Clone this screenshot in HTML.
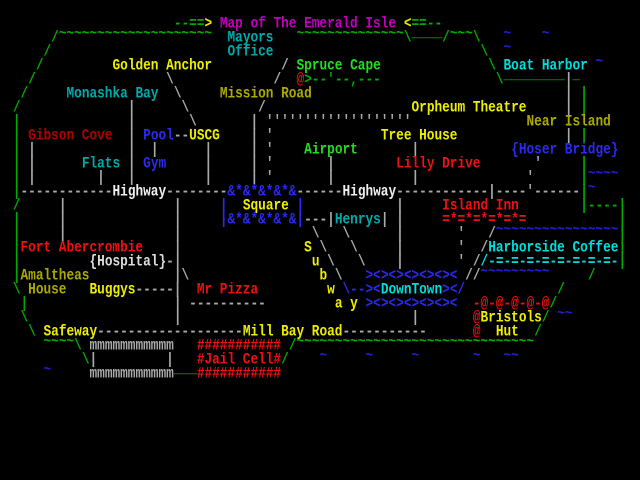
<!DOCTYPE html>
<html><head><meta charset="utf-8"><style>
html,body{margin:0;padding:0;background:#000;}
body{width:640px;height:480px;overflow:hidden;position:relative;}
b{position:absolute;left:calc(var(--c)*7.667px - 2.5px);top:calc(var(--r)*14px + 17px);font:bold 12.78px/14px "Liberation Mono","DejaVu Sans Mono",monospace;white-space:pre;transform:scaleY(1.2);transform-origin:50% 50%;color:#aaa;}
.t{margin-top:-4px}.u{margin-top:-5px}
.g{color:#00aa00}.lg{color:#22dd22}.y{color:#eeee00}.o{color:#aaaa00}
.c{color:#00aaaa}.bc{color:#00dddd}.r{color:#ee1111}.dr{color:#b00000}
.bl{color:#2a2af0}.bt{color:#2020d0}.w{color:#f0f0f0}.w2{color:#dddddd}.gr{color:#aaaaaa}.m{color:#c000c0}
</style></head><body>
<!-- row 0 -->
<b class="g" style="--c:23;--r:0">--==</b><b class="y" style="--c:27;--r:0">&gt;</b><b class="m" style="--c:29;--r:0">Map of The Emerald Isle</b><b class="y" style="--c:53;--r:0">&lt;</b><b class="g" style="--c:54;--r:0">==--</b>
<!-- row 1 -->
<b class="g" style="--c:7;--r:1">/</b><b class="g t" style="--c:8;--r:1">~~~~~~~~~~~~~~~~~~~~</b><b class="c" style="--c:30;--r:1">Mayors</b><b class="g t" style="--c:39;--r:1">~~~~~~~~~~~~~~</b><b class="g" style="--c:53;--r:1">\</b><b class="g u" style="--c:54;--r:1">____</b><b class="g" style="--c:58;--r:1">/</b><b class="g t" style="--c:59;--r:1">~~~</b><b class="g" style="--c:62;--r:1">\</b><b class="bt t" style="--c:66;--r:1">~</b><b class="bt t" style="--c:71;--r:1">~</b>
<!-- row 2 -->
<b class="g" style="--c:6;--r:2">/</b><b class="c" style="--c:30;--r:2">Office</b><b class="g" style="--c:63;--r:2">\</b><b class="bt t" style="--c:66;--r:2">~</b>
<!-- row 3 -->
<b class="g" style="--c:5;--r:3">/</b><b class="y" style="--c:15;--r:3">Golden Anchor</b><b class="gr" style="--c:37;--r:3">/</b><b class="lg" style="--c:39;--r:3">Spruce Cape</b><b class="g" style="--c:64;--r:3">\</b><b class="bc" style="--c:66;--r:3">Boat Harbor</b><b class="bt t" style="--c:78;--r:3">~</b>
<!-- row 4 -->
<b class="g" style="--c:4;--r:4">/</b><b class="gr" style="--c:22;--r:4">\</b><b class="gr" style="--c:36;--r:4">/</b><b class="r" style="--c:39;--r:4">@</b><b class="g" style="--c:40;--r:4">&gt;--'--,---</b><b class="g" style="--c:65;--r:4">\</b><b class="g u" style="--c:66;--r:4">________</b><b class="gr" style="--c:74;--r:4">|</b><b class="g u" style="--c:75;--r:4">_</b>
<!-- row 5 -->
<b class="g" style="--c:3;--r:5">/</b><b class="c" style="--c:9;--r:5">Monashka Bay</b><b class="gr" style="--c:23;--r:5">\</b><b class="o" style="--c:29;--r:5">Mission Road</b><b class="gr" style="--c:74;--r:5">|</b><b class="g" style="--c:76;--r:5">|</b>
<!-- row 6 -->
<b class="g" style="--c:2;--r:6">/</b><b class="gr" style="--c:17;--r:6">|</b><b class="gr" style="--c:24;--r:6">\</b><b class="gr" style="--c:34;--r:6">/</b><b class="y" style="--c:54;--r:6">Orpheum Theatre</b><b class="gr" style="--c:74;--r:6">|</b><b class="g" style="--c:76;--r:6">|</b>
<!-- row 7 -->
<b class="g" style="--c:2;--r:7">|</b><b class="gr" style="--c:17;--r:7">|</b><b class="gr" style="--c:25;--r:7">\</b><b class="gr" style="--c:33;--r:7">|</b><b class="gr" style="--c:35;--r:7">'''''''''''''''''''</b><b class="o" style="--c:69;--r:7">Near Island</b>
<!-- row 8 -->
<b class="g" style="--c:2;--r:8">|</b><b class="dr" style="--c:4;--r:8">Gibson Cove</b><b class="gr" style="--c:17;--r:8">|</b><b class="bl" style="--c:19;--r:8">Pool</b><b class="gr" style="--c:23;--r:8">--</b><b class="y" style="--c:25;--r:8">USCG</b><b class="gr" style="--c:33;--r:8">|</b><b class="gr" style="--c:35;--r:8">'</b><b class="y" style="--c:50;--r:8">Tree House</b><b class="gr" style="--c:74;--r:8">|</b><b class="g" style="--c:76;--r:8">|</b>
<!-- row 9 -->
<b class="g" style="--c:2;--r:9">|</b><b class="gr" style="--c:4;--r:9">|</b><b class="gr" style="--c:17;--r:9">|</b><b class="gr" style="--c:20;--r:9">|</b><b class="gr" style="--c:27;--r:9">|</b><b class="gr" style="--c:33;--r:9">|</b><b class="gr" style="--c:35;--r:9">'</b><b class="lg" style="--c:40;--r:9">Airport</b><b class="gr" style="--c:54;--r:9">|</b><b class="bl" style="--c:67;--r:9">{Hoser Bridge}</b>
<!-- row 10 -->
<b class="g" style="--c:2;--r:10">|</b><b class="gr" style="--c:4;--r:10">|</b><b class="c" style="--c:11;--r:10">Flats</b><b class="gr" style="--c:17;--r:10">|</b><b class="bl" style="--c:19;--r:10">Gym</b><b class="gr" style="--c:27;--r:10">|</b><b class="gr" style="--c:33;--r:10">|</b><b class="gr" style="--c:35;--r:10">'</b><b class="gr" style="--c:43;--r:10">|</b><b class="r" style="--c:52;--r:10">Lilly Drive</b><b class="gr" style="--c:70;--r:10">'</b><b class="g" style="--c:76;--r:10">|</b>
<!-- row 11 -->
<b class="g" style="--c:2;--r:11">|</b><b class="gr" style="--c:4;--r:11">|</b><b class="gr" style="--c:13;--r:11">|</b><b class="gr" style="--c:17;--r:11">|</b><b class="gr" style="--c:27;--r:11">|</b><b class="gr" style="--c:33;--r:11">|</b><b class="gr" style="--c:35;--r:11">'</b><b class="gr" style="--c:43;--r:11">|</b><b class="gr" style="--c:54;--r:11">|</b><b class="gr" style="--c:69;--r:11">'</b><b class="g" style="--c:76;--r:11">|</b><b class="bt t" style="--c:77;--r:11">~~~~</b>
<!-- row 12 -->
<b class="g" style="--c:2;--r:12">|</b><b class="gr" style="--c:3;--r:12">------------</b><b class="w" style="--c:15;--r:12">Highway</b><b class="gr" style="--c:22;--r:12">--------</b><b class="bl" style="--c:30;--r:12">&amp;*&amp;*&amp;*&amp;*&amp;</b><b class="gr" style="--c:39;--r:12">------</b><b class="w" style="--c:45;--r:12">Highway</b><b class="gr" style="--c:52;--r:12">------------|----'------</b><b class="g" style="--c:76;--r:12">|</b><b class="bt t" style="--c:77;--r:12">~</b>
<!-- row 13 -->
<b class="g" style="--c:2;--r:13">/</b><b class="gr" style="--c:8;--r:13">|</b><b class="gr" style="--c:23;--r:13">|</b><b class="bl" style="--c:29;--r:13">|</b><b class="y" style="--c:32;--r:13">Square</b><b class="bl" style="--c:39;--r:13">|</b><b class="gr" style="--c:52;--r:13">|</b><b class="r" style="--c:58;--r:13">Island Inn</b><b class="g" style="--c:76;--r:13">|----|</b>
<!-- row 14 -->
<b class="g" style="--c:2;--r:14">|</b><b class="gr" style="--c:8;--r:14">|</b><b class="gr" style="--c:23;--r:14">|</b><b class="bl" style="--c:29;--r:14">|&amp;*&amp;*&amp;*&amp;*&amp;|</b><b class="gr" style="--c:40;--r:14">---|</b><b class="c" style="--c:44;--r:14">Henrys</b><b class="gr" style="--c:50;--r:14">|</b><b class="gr" style="--c:52;--r:14">|</b><b class="r" style="--c:58;--r:14">=*=*=*=*=*=</b><b class="g" style="--c:81;--r:14">|</b>
<!-- row 15 -->
<b class="g" style="--c:2;--r:15">|</b><b class="gr" style="--c:8;--r:15">|</b><b class="gr" style="--c:23;--r:15">|</b><b class="gr" style="--c:41;--r:15">\</b><b class="gr" style="--c:45;--r:15">\</b><b class="gr" style="--c:52;--r:15">|</b><b class="gr" style="--c:60;--r:15">'</b><b class="gr" style="--c:64;--r:15">/</b><b class="bt t" style="--c:65;--r:15">~~~~~~~~~~~~~~~~</b><b class="g" style="--c:81;--r:15">|</b>
<!-- row 16 -->
<b class="g" style="--c:2;--r:16">|</b><b class="r" style="--c:3;--r:16">Fort Abercrombie</b><b class="gr" style="--c:23;--r:16">|</b><b class="y" style="--c:40;--r:16">S</b><b class="gr" style="--c:42;--r:16">\</b><b class="gr" style="--c:46;--r:16">\</b><b class="gr" style="--c:52;--r:16">|</b><b class="gr" style="--c:60;--r:16">'</b><b class="gr" style="--c:63;--r:16">/</b><b class="bc" style="--c:64;--r:16">Harborside Coffee</b><b class="g" style="--c:81;--r:16">|</b>
<!-- row 17 -->
<b class="g" style="--c:2;--r:17">|</b><b class="w2" style="--c:12;--r:17">{Hospital}</b><b class="gr" style="--c:22;--r:17">-|</b><b class="y" style="--c:41;--r:17">u</b><b class="gr" style="--c:43;--r:17">\</b><b class="gr" style="--c:47;--r:17">\</b><b class="gr" style="--c:52;--r:17">|</b><b class="gr" style="--c:60;--r:17">'</b><b class="gr" style="--c:62;--r:17">/</b><b class="bc" style="--c:63;--r:17">/-=-=-=-=-=-=-=-=-</b><b class="g" style="--c:81;--r:17">|</b>
<!-- row 18 -->
<b class="g" style="--c:2;--r:18">|</b><b class="o" style="--c:3;--r:18">Amaltheas</b><b class="gr" style="--c:23;--r:18">|</b><b class="gr" style="--c:24;--r:18">\</b><b class="y" style="--c:42;--r:18">b</b><b class="gr" style="--c:44;--r:18">\</b><b class="bl" style="--c:48;--r:18">&gt;&lt;&gt;&lt;&gt;&lt;&gt;&lt;&gt;&lt;&gt;&lt;</b><b class="gr" style="--c:61;--r:18">//</b><b class="bt t" style="--c:63;--r:18">~~~~~~~~~</b><b class="g" style="--c:77;--r:18">/</b>
<!-- row 19 -->
<b class="g" style="--c:2;--r:19">\</b><b class="o" style="--c:4;--r:19">House</b><b class="y" style="--c:12;--r:19">Buggys</b><b class="gr" style="--c:18;--r:19">-----|</b><b class="r" style="--c:26;--r:19">Mr Pizza</b><b class="y" style="--c:43;--r:19">w</b><b class="bl" style="--c:45;--r:19">\--&gt;&lt;</b><b class="bc" style="--c:50;--r:19">DownTown</b><b class="bl" style="--c:58;--r:19">&gt;&lt;/</b><b class="g" style="--c:73;--r:19">/</b>
<!-- row 20 -->
<b class="g" style="--c:3;--r:20">|</b><b class="gr" style="--c:23;--r:20">|</b><b class="gr" style="--c:25;--r:20">----------</b><b class="y" style="--c:44;--r:20">a y</b><b class="bl" style="--c:48;--r:20">&gt;&lt;&gt;&lt;&gt;&lt;&gt;&lt;&gt;&lt;&gt;&lt;</b><b class="r" style="--c:62;--r:20">-@-@-@-@-@</b><b class="g" style="--c:72;--r:20">/</b>
<!-- row 21 -->
<b class="g" style="--c:3;--r:21">\</b><b class="gr" style="--c:23;--r:21">|</b><b class="gr" style="--c:54;--r:21">|</b><b class="r" style="--c:62;--r:21">@</b><b class="y" style="--c:63;--r:21">Bristols</b><b class="g" style="--c:71;--r:21">/</b><b class="bt t" style="--c:73;--r:21">~~</b>
<!-- row 22 -->
<b class="g" style="--c:4;--r:22">\</b><b class="y" style="--c:6;--r:22">Safeway</b><b class="gr" style="--c:13;--r:22">-------------------</b><b class="y" style="--c:32;--r:22">Mill Bay Road</b><b class="gr" style="--c:45;--r:22">-----------</b><b class="r" style="--c:62;--r:22">@</b><b class="y" style="--c:65;--r:22">Hut</b><b class="g" style="--c:70;--r:22">/</b>
<!-- row 23 -->
<b class="g t" style="--c:6;--r:23">~~~~</b><b class="g" style="--c:10;--r:23">\</b><b class="gr" style="--c:12;--r:23">mmmmmmmmmmm</b><b class="r" style="--c:26;--r:23">###########</b><b class="g" style="--c:38;--r:23">/</b><b class="g t" style="--c:39;--r:23">~~~~~~~~~~~~~~~~~~~~~~~~~~~~~~~</b>
<!-- row 24 -->
<b class="g" style="--c:11;--r:24">\</b><b class="gr" style="--c:12;--r:24">|</b><b class="gr" style="--c:22;--r:24">|</b><b class="r" style="--c:26;--r:24">#Jail Cell#</b><b class="g" style="--c:37;--r:24">/</b><b class="bt t" style="--c:42;--r:24">~</b><b class="bt t" style="--c:48;--r:24">~</b><b class="bt t" style="--c:54;--r:24">~</b><b class="bt t" style="--c:62;--r:24">~</b><b class="bt t" style="--c:66;--r:24">~~</b>
<!-- row 25 -->
<b class="bt t" style="--c:6;--r:25">~</b><b class="gr" style="--c:12;--r:25">mmmmmmmmmmm</b><b class="g u" style="--c:23;--r:25">___</b><b class="r" style="--c:26;--r:25">###########</b>
</body></html>
